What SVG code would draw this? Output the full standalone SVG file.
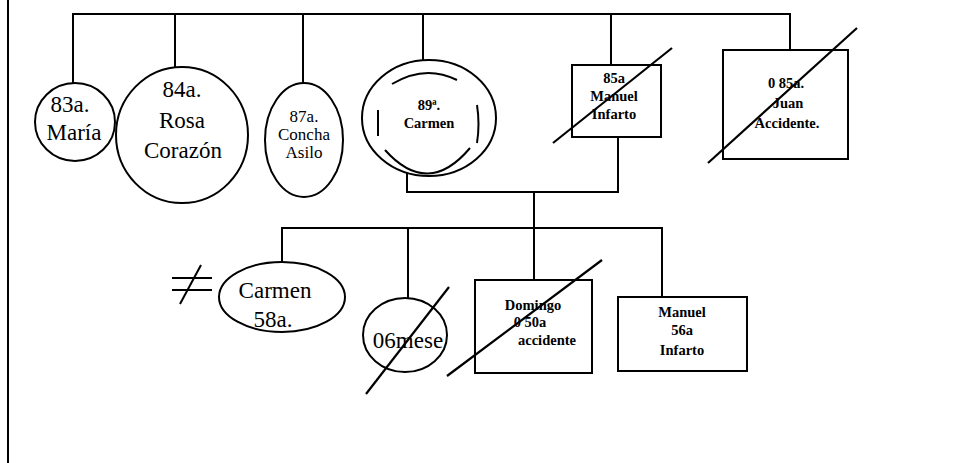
<svg xmlns="http://www.w3.org/2000/svg" width="965" height="463" viewBox="0 0 965 463">
<style>
  .ln{stroke:#000;stroke-width:2;fill:none}
  .sh{stroke:#000;stroke-width:2;fill:#fff}
  .st{stroke:#000;stroke-width:2.2;fill:none}
  text{font-family:"Liberation Serif","Times New Roman",serif;fill:#000;text-anchor:middle}
  .big{font-size:23px}
  .mid{font-size:17px}
  .sm{font-size:14.5px;font-weight:bold}
</style>
<rect width="965" height="463" fill="#fff"/>
<line class="ln" x1="8" y1="0" x2="8" y2="463" stroke-width="2.5"/>
<g id="connectors">
  <path class="ln" d="M73 83 V14 H790 V50"/>
  <line class="ln" x1="175" y1="14" x2="175" y2="67"/>
  <line class="ln" x1="303" y1="14" x2="303" y2="83"/>
  <line class="ln" x1="423" y1="14" x2="423" y2="60"/>
  <line class="ln" x1="611" y1="14" x2="611" y2="65"/>
  <path class="ln" d="M407 173 V192 H618 V137"/>
  <line class="ln" x1="534" y1="192" x2="534" y2="280"/>
  <path class="ln" d="M282 262 V228 H662 V297"/>
  <line class="ln" x1="408" y1="228" x2="408" y2="298"/>
</g>
<g id="maria">
  <ellipse class="sh" cx="75" cy="122" rx="40" ry="39"/>
  <text class="big" x="70" y="112">83a.</text>
  <text class="big" x="74" y="140">María</text>
</g>
<g id="rosa">
  <ellipse class="sh" cx="182" cy="135" rx="66" ry="68"/>
  <text class="big" x="182" y="97">84a.</text>
  <text class="big" x="182" y="128">Rosa</text>
  <text class="big" x="183" y="158">Corazón</text>
</g>
<g id="concha">
  <ellipse class="sh" cx="304" cy="140" rx="39" ry="57"/>
  <text class="mid" x="304" y="122">87a.</text>
  <text class="mid" x="304" y="140">Concha</text>
  <text class="mid" x="304" y="158">Asilo</text>
</g>
<g id="carmen89">
  <ellipse class="sh" cx="429" cy="118" rx="67" ry="58"/>
  <path class="ln" d="M392 84 Q425 64 457 80"/>
  <path class="ln" d="M385 150 Q428 198 470 148"/>
  <line class="ln" x1="378" y1="110" x2="378" y2="136"/>
  <path class="ln" d="M477 105 Q480 124 477 143"/>
  <text class="sm" x="429" y="110">89ª.</text>
  <text class="sm" x="429" y="128">Carmen</text>
</g>
<g id="manuel85">
  <rect class="sh" x="572" y="65" width="89" height="72"/>
  <text class="sm" x="614" y="83">85a</text>
  <text class="sm" x="614" y="101">Manuel</text>
  <text class="sm" x="614" y="119">Infarto</text>
  <line class="st" x1="553" y1="143" x2="672" y2="48"/>
</g>
<g id="juan">
  <rect class="sh" x="723" y="50" width="125" height="109"/>
  <text class="sm" x="786" y="88">0 85a.</text>
  <text class="sm" x="788" y="108">Juan</text>
  <text class="sm" x="787" y="128">Accidente.</text>
  <line class="st" x1="708" y1="163" x2="857" y2="28"/>
</g>
<g id="ne">
  <line class="ln" x1="172" y1="278" x2="212" y2="278"/>
  <line class="ln" x1="172" y1="290" x2="212" y2="290"/>
  <line class="ln" x1="180" y1="304" x2="201" y2="265"/>
</g>
<g id="carmen58">
  <ellipse class="sh" cx="282" cy="297" rx="63" ry="35"/>
  <text class="big" x="275" y="298">Carmen</text>
  <text class="big" x="273" y="327">58a.</text>
</g>
<g id="mese">
  <ellipse class="sh" cx="405" cy="335" rx="42" ry="37"/>
  <text class="big" x="408" y="348">06mese</text>
  <line class="st" x1="366" y1="394" x2="449" y2="287"/>
</g>
<g id="domingo">
  <rect class="sh" x="475" y="280" width="117" height="93"/>
  <text class="sm" x="533" y="310">Domingo</text>
  <text class="sm" x="530" y="327">0 50a</text>
  <text class="sm" x="547" y="345">accidente</text>
  <line class="st" x1="447" y1="376" x2="602" y2="260"/>
</g>
<g id="manuel56">
  <rect class="sh" x="618" y="297" width="129" height="74"/>
  <text class="sm" x="682" y="317">Manuel</text>
  <text class="sm" x="682" y="335">56a</text>
  <text class="sm" x="682" y="355">Infarto</text>
</g>
</svg>
